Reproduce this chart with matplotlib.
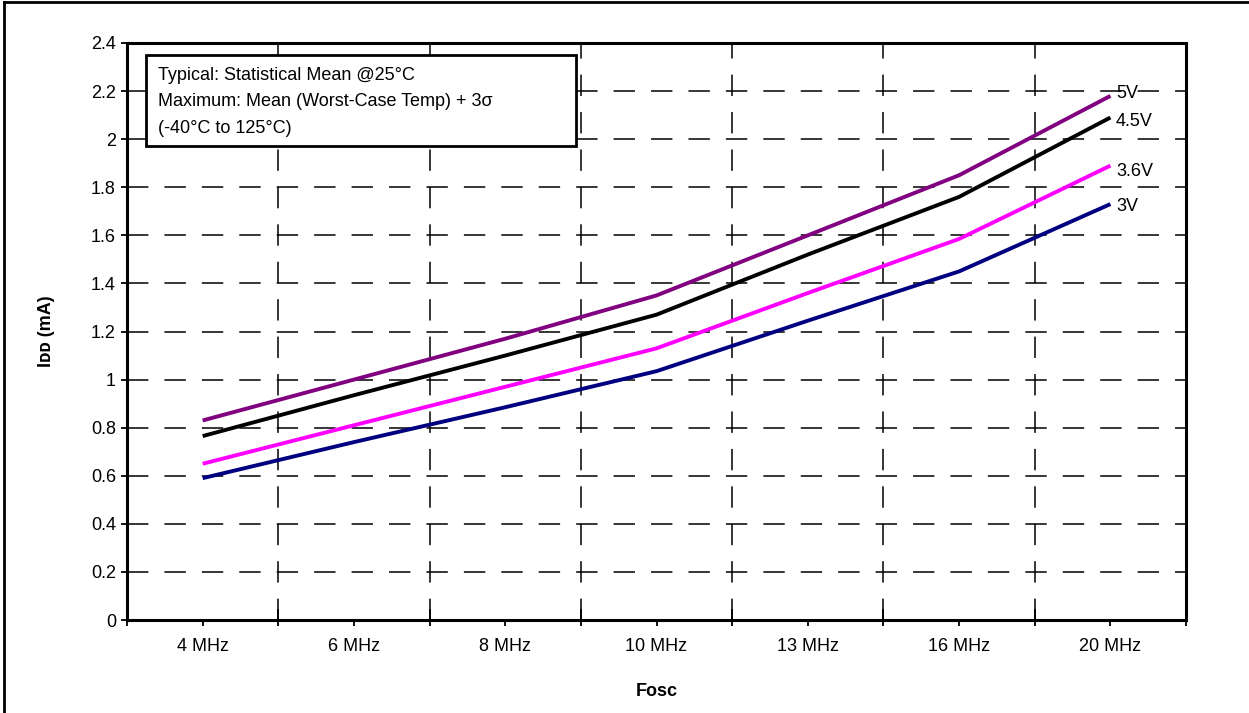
#Idd vs Fosc chart
import matplotlib.pyplot as plt
from matplotlib.lines import Line2D
from matplotlib.patches import Rectangle

plt.rcParams['font.family'] = ['Liberation Sans', 'DejaVu Sans']

#data
freqs = ["4 MHz", "6 MHz", "8 MHz", "10 MHz", "13 MHz", "16 MHz", "20 MHz"]
idd_5v = [0.83, 1.00, 1.17, 1.35, 1.60, 1.85, 2.18]
idd_45v = [0.765, 0.935, 1.10, 1.27, 1.52, 1.76, 2.09]
idd_36v = [0.65, 0.81, 0.97, 1.13, 1.36, 1.585, 1.89]
idd_3v = [0.59, 0.74, 0.885, 1.035, 1.245, 1.45, 1.73]
yticks = [0, 0.2, 0.4, 0.6, 0.8, 1, 1.2, 1.4, 1.6, 1.8, 2, 2.2, 2.4]
note = ["Typical: Statistical Mean @25°C",
        "Maximum: Mean (Worst-Case Temp) + 3σ",
        "(-40°C to 125°C)"]

series = [
    ("5V", idd_5v, "#800080", 2),
    ("4.5V", idd_45v, "#000000", -3),
    ("3.6V", idd_36v, "#FF00FF", -4),
    ("3V", idd_3v, "#000080", -2),
]

fs = 13
fig = plt.figure(figsize=(12.49, 7.13), dpi=100)
ax = fig.add_axes([0.1017, 0.1304, 0.8479, 0.8093])

x = list(range(len(freqs)))
for name, vals, col, dy in series:
    ax.plot(x, vals, color=col, lw=2.8, solid_capstyle='butt', zorder=3)
    ax.annotate(name, (x[-1], vals[-1]), xytext=(4, dy), textcoords='offset points',
                fontsize=fs, va='center', ha='left')

#axes and grid
ax.set_xlim(-0.5, len(freqs) - 0.5)
ax.set_ylim(0, 2.4)
ax.set_yticks(yticks)
ax.set_yticklabels([f"{v:g}" for v in yticks])
bounds = [i - 0.5 for i in range(len(freqs) + 1)]
ax.set_xticks(bounds)
ax.set_xticklabels([])
ax.set_xticks(x, minor=True)
ax.set_xticklabels(freqs, minor=True)
ax.tick_params(axis='x', which='major', direction='in', length=8, width=1.3)
ax.tick_params(axis='x', which='minor', direction='out', length=4, width=1.3, pad=9, labelsize=fs)
ax.tick_params(axis='y', direction='out', length=4, width=1.3, pad=4, labelsize=fs)

#outward part of the boundary ticks
sec = ax.secondary_xaxis('bottom')
sec.set_xticks(bounds)
sec.set_xticklabels([])
sec.tick_params(direction='out', length=4, width=1.3)
sec.spines['bottom'].set_visible(False)

ax.grid(True, which='major', color='black', lw=1.1, linestyle=(0, (14, 10.5)))
for s in ax.spines.values():
    s.set_linewidth(2.2)

ax.set_xlabel("Fosc", fontweight='bold', fontsize=fs, labelpad=20)
ax.set_ylabel("I\u1d05\u1d05 (mA)", fontweight='bold', fontsize=fs, labelpad=26)

#note box
fig.patches.append(Rectangle((0.1169, 0.7952), 0.3443, 0.1276, transform=fig.transFigure,
                             facecolor='white', edgecolor='black', lw=2, zorder=5))
for k, line in enumerate(note):
    fig.text(0.1265, 0.8948 - k * 0.0375, line, fontsize=fs, va='center', ha='left', zorder=6)

#outer frame (top and left edges only)
fig.lines.append(Line2D([0.0032, 0.0032], [0, 0.997], transform=fig.transFigure, color='black', lw=2))
fig.lines.append(Line2D([0.0032, 1], [0.997, 0.997], transform=fig.transFigure, color='black', lw=2))

fig.savefig("out.png", dpi=100)
